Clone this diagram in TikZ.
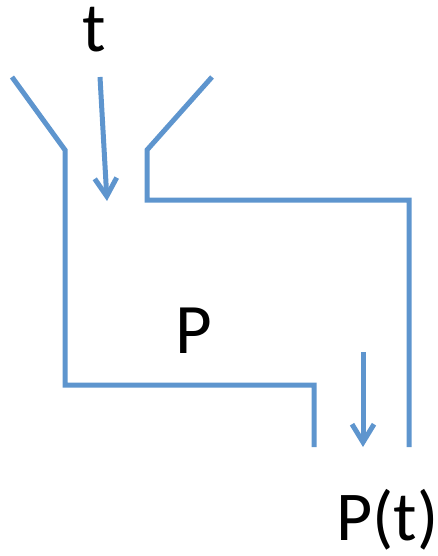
\documentclass[tikz,border=0pt]{standalone}
\usepackage{fontspec}
\setmainfont{Carlito}
\usetikzlibrary{arrows.meta}
\definecolor{pipe}{HTML}{5E95CE}
\begin{document}
\begin{tikzpicture}[x=1pt,y=-1pt,
  pipeline/.style={draw=pipe,line width=5pt,line join=miter},
  flow/.style={draw=pipe,line width=5pt,-{Straight Barb[length=18pt,width=22pt,line width=5pt]}},
  lbl/.style={inner sep=0pt,anchor=base west,text=black}]
\useasboundingbox (0,0) rectangle (438,556);
\draw[pipeline] (12,77) -- (65,150) -- (65,385) -- (314,385) -- (314,447);
\draw[pipeline] (212,77) -- (147,150) -- (147,200) -- (409,200) -- (409,447);
\coordinate (tin) at (100,77);
\coordinate (tout) at (107,201);
\draw[flow] (tin) -- (tout);
\coordinate (pin) at (363,352);
\coordinate (pout) at (363,447);
\draw[flow] (pin) -- (pout);
\node[lbl,font=\fontsize{70}{80}\selectfont] (t) at (82,52) {t};
\node[lbl,font=\fontsize{71}{80}\selectfont] (P) at (175,353) {P};
\node[lbl,font=\fontsize{70}{80}\selectfont] (Pt) at (336,540) {P(t)};
\end{tikzpicture}
\end{document}
